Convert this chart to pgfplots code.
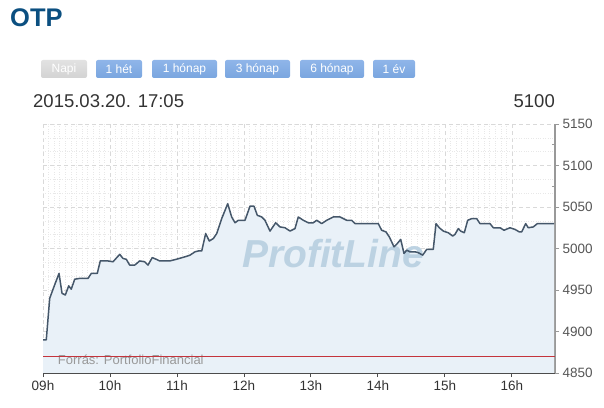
\documentclass[border=0pt]{standalone}
\usepackage{pgfplots}
\pgfplotsset{compat=1.18}
\usepackage{pgfplotstable}
\usepackage{fontspec}
\setmainfont{Liberation Sans}
\definecolor{titleblue}{HTML}{0B4F80}
\definecolor{btnblue}{HTML}{7AA6DF}
\definecolor{btnblueT}{HTML}{8FB5E9}
\definecolor{btngray}{HTML}{D3D3D3}
\definecolor{btngrayT}{HTML}{E2E2E2}
\definecolor{fillblue}{HTML}{E9F1F8}
\definecolor{linecol}{HTML}{45576A}
\definecolor{gridcol}{HTML}{D9D9D9}
\definecolor{mgridcol}{HTML}{E8E8E8}
\definecolor{refred}{HTML}{C4343C}
\definecolor{wmark}{HTML}{BCD2E2}
\definecolor{txtdark}{HTML}{333333}
\definecolor{ticktxt}{HTML}{555555}

\pgfplotstableread{
x y
9.000 4890
9.049 4890
9.100 4940
9.164 4954
9.239 4970
9.284 4946
9.333 4944
9.384 4955
9.422 4951
9.473 4963
9.548 4964
9.672 4964
9.721 4970
9.810 4970
9.855 4985
9.970 4985
10.045 4984
10.145 4993
10.194 4988
10.243 4987
10.294 4980
10.369 4980
10.443 4985
10.518 4984
10.567 4980
10.631 4989
10.691 4987
10.742 4985
10.891 4985
10.990 4987
11.119 4990
11.194 4992
11.269 4996
11.318 4997
11.369 4997
11.428 5018
11.482 5009
11.542 5012
11.593 5018
11.667 5036
11.757 5054
11.816 5038
11.866 5031
11.915 5034
12.015 5034
12.090 5051
12.149 5051
12.199 5040
12.264 5038
12.313 5034
12.388 5021
12.473 5031
12.537 5026
12.612 5025
12.687 5021
12.761 5024
12.810 5038
12.885 5034
12.960 5031
13.034 5031
13.085 5034
13.160 5030
13.234 5034
13.333 5038
13.433 5038
13.533 5034
13.607 5034
13.657 5030
14.004 5030
14.055 5022
14.119 5020
14.169 5014
14.239 5002
14.288 5006
14.339 5011
14.388 4994
14.428 4998
14.478 4996
14.552 4996
14.601 4995
14.667 4992
14.727 4999
14.825 4999
14.866 5030
14.915 5025
14.975 5021
15.049 5019
15.115 5015
15.149 5017
15.199 5024
15.234 5021
15.288 5019
15.339 5034
15.399 5036
15.473 5036
15.522 5030
15.672 5030
15.721 5025
15.821 5025
15.881 5022
15.970 5025
16.045 5023
16.109 5020
16.145 5020
16.204 5030
16.243 5025
16.318 5026
16.378 5030
16.627 5030
}\otpdata

\begin{document}
\begin{tikzpicture}
\path[use as bounding box] (0,0) rectangle (604bp,408bp);
% title
\node[anchor=base west, inner sep=0pt, text=titleblue, font=\fontsize{25.5bp}{30bp}\selectfont\bfseries] at (10bp,381.3bp) {OTP};
% buttons
\tikzset{btn/.style={rounded corners=2bp, inner sep=0pt}}
\foreach \xa/\xb/\lab/\kind in {41/87/Napi/g, 96/142/1 hét/b, 152/217/1 hónap/b, 225/290/3 hónap/b, 300/364/6 hónap/b, 373/415/1 év/b}{
  \if\kind g
    \shade[btn, top color=btngrayT, bottom color=btngray] (\xa bp,330bp) rectangle (\xb bp,348bp);
  \else
    \shade[btn, top color=btnblueT, bottom color=btnblue] (\xa bp,330bp) rectangle (\xb bp,348bp);
  \fi
  \node[text=white, font=\fontsize{12bp}{14bp}\selectfont, inner sep=0pt] at ({(\xa+\xb)/2*1bp},339bp) {\lab};
}
% date and value
\node[anchor=base west, inner sep=0pt, text=txtdark, font=\fontsize{18.5bp}{22bp}\selectfont] at (33bp,300bp) {2015.03.20. 17:05};
\node[anchor=base east, inner sep=0pt, text=txtdark, font=\fontsize{18.5bp}{22bp}\selectfont] at (555bp,300bp) {5100};

\begin{axis}[
  at={(43bp,35bp)}, anchor=south west,
  scale only axis, width=512bp, height=249bp,
  xmin=9, xmax=16.642, ymin=4850, ymax=5150,
  axis x line*=bottom, axis y line*=right,
  x axis line style={draw=black!70, line width=1.2bp, -},
  y axis line style={draw=black!40, line width=1.5bp, -},
  xtick={9,10,11,12,13,14,15,16},
  xticklabels={09h,10h,11h,12h,13h,14h,15h,16h},
  ytick={4850,4900,4950,5000,5050,5100,5150},
  minor x tick num=11,
  minor y tick num=2,
  minor tick length=0pt,
  major tick length=4bp,
  tick align=outside,
  x tick style={draw=black!70, line width=1bp},
  y tick style={draw=black!40, line width=1bp},
  grid=both,
  major grid style={draw=gridcol, dash pattern=on 4bp off 3bp, line width=0.8bp},
  minor grid style={draw=mgridcol, dotted, line width=0.6bp},
  /pgf/number format/assume math mode=true,
  /pgf/number format/1000 sep={},
  ticklabel style={font=\fontsize{13.5bp}{16bp}\selectfont, text=ticktxt},
  xticklabel style={text=txtdark},
  extra y ticks={4875,4925,4975,5025,5075,5125},
  extra y tick labels={},
  extra y tick style={grid=none, major tick length=3bp, tick align=inside, tick style={draw=refred, line width=0.8bp}},
  clip=true,
  axis on top=false,
]
\addplot[fill=fillblue, draw=none] table[x=x,y=y] {\otpdata} \closedcycle;
\node[text=wmark, font=\fontsize{39bp}{44bp}\selectfont\bfseries\itshape, inner sep=0pt] at (axis cs:13.33,4994) {ProfitLine};
\node[anchor=west, text=black!40, font=\fontsize{13bp}{15bp}\selectfont, inner sep=0pt] at (axis cs:9.22,4865.5) {Forrás: PortfolioFinancial};
\addplot[refred, line width=1.1bp] coordinates {(9,4870) (16.642,4870)};
\addplot[linecol, line width=1.5bp, line join=round] table[x=x,y=y] {\otpdata};
\end{axis}
\end{tikzpicture}
\end{document}
